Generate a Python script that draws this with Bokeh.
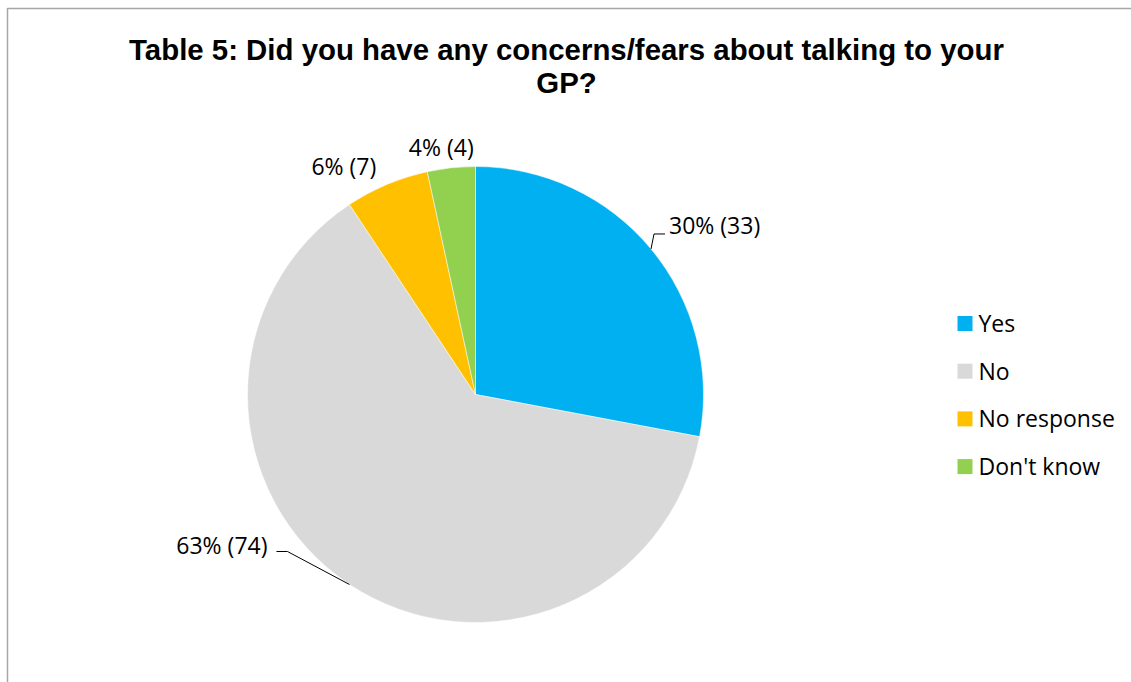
import numpy as np
from bokeh.plotting import figure
from bokeh.models import Range1d, Label, ColumnDataSource
from bokeh.core.properties import value
from bokeh.embed import file_html
from bokeh.resources import INLINE

# ---- data ----
categories = ["Yes", "No", "No response", "Don't know"]
counts = [33, 74, 7, 4]
pct_labels = ["30%", "63%", "6%", "4%"]
colors = ["#00B0F0", "#D9D9D9", "#FFC000", "#92D050"]
title_lines = ["Table 5: Did you have any concerns/fears about talking to your", "GP?"]

# ---- layout ----
W, H = 1131, 682


def Y(py):
    return H - py


cx, cy, R = 475, Y(394), 228
label_font = "Open Sans"
label_size = "23px"

total = float(sum(counts))
cum = np.concatenate([[0], np.cumsum(counts)])
start = [np.pi / 2 - cum[i] / total * 2 * np.pi for i in range(len(counts))]
end = [np.pi / 2 - cum[i + 1] / total * 2 * np.pi for i in range(len(counts))]
mid = [np.pi / 2 - (cum[i] + counts[i] / 2.0) / total * 2 * np.pi for i in range(len(counts))]

p = figure(width=W, height=H, x_range=Range1d(0, W), y_range=Range1d(0, H),
           output_backend="svg", toolbar_location=None,
           x_axis_type=None, y_axis_type=None, min_border=0)
p.outline_line_color = None
p.background_fill_color = "white"
p.border_fill_color = "white"
for g in p.grid:
    g.visible = False

# chart frame border
p.quad(left=7, right=W + 30, top=Y(8), bottom=-30, fill_color=None,
       line_color="#A6A6A6", line_width=1.5)

src = ColumnDataSource(dict(start=start, end=end, color=colors, cat=categories))
p.wedge(x=cx, y=cy, radius=R, start_angle="start", end_angle="end", direction="clock",
        fill_color="color", line_color="white", line_width=0.5, source=src)

# data labels
label_dx = [18, -82, -43, -10]
label_dy = [-24, -39, -18, -21]
label_align = ["left", "right", "center", "center"]
leaders = [[(0, 0), (3, -15), (14, -15)], [(0, 0), (-62, -33), (-73, -33)], None, None]

for i in range(len(counts)):
    ex = cx + R * np.cos(mid[i])
    ey = cy + R * np.sin(mid[i])
    txt = f"{pct_labels[i]} ({counts[i]})"
    p.add_layout(Label(x=ex + label_dx[i], y=ey - label_dy[i], text=txt,
                       text_align=label_align[i], text_baseline="middle",
                       text_font=label_font, text_font_size=label_size,
                       text_color="#000000"))
    if leaders[i]:
        xs = [ex + a for a, b in leaders[i]]
        ys = [ey - b for a, b in leaders[i]]
        p.line(xs, ys, line_color="#000000", line_width=1)

# legend
leg_y0 = 322.5
leg_step = 47.7
leg_ys = [Y(leg_y0 + i * leg_step) for i in range(len(categories))]
p.rect(x=[964.5] * len(categories), y=[Y(323 + i * leg_step) for i in range(len(categories))],
       width=15, height=15, fill_color=colors, line_color=None)
p.text(x=[978] * len(categories), y=leg_ys, text=categories,
       text_font=value(label_font), text_font_size=label_size,
       text_baseline="middle", text_align="left", text_color="#000000")

# title
title_y = [48.5, 82]
for line, ty in zip(title_lines, title_y):
    p.add_layout(Label(x=566, y=Y(ty), text=line, text_align="center",
                       text_baseline="middle", text_font="Liberation Sans",
                       text_font_style="bold", text_font_size="29.4px",
                       text_color="#000000"))

open("out.html", "w").write(file_html(p, INLINE))
